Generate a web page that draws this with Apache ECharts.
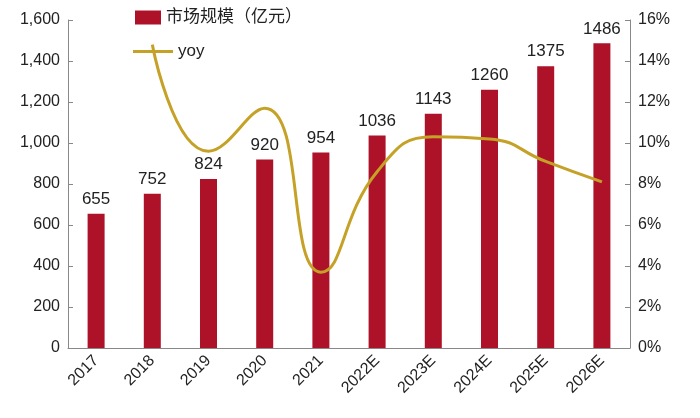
<!DOCTYPE html><html><head><meta charset="utf-8"><script src="https://cdn.jsdelivr.net/npm/echarts@6/dist/echarts.min.js"></script></head><body style="margin:0"><div id="c" style="width:700px;height:418px"></div><script>
const categories=['2017','2018','2019','2020','2021','2022E','2023E','2024E','2025E','2026E'];
const marketSize=[655,752,824,920,954,1036,1143,1260,1375,1486];
const yoy=[null,14.8,9.6,11.7,3.7,8.6,10.3,10.2,9.1,8.1];
const ff='"Liberation Sans", Arial, "Noto Sans CJK SC", sans-serif';
const ch=echarts.init(document.getElementById('c'));
ch.setOption({
 textStyle:{fontFamily:ff},
 legend:[{data:[{name:'市场规模（亿元）',icon:'rect'}],left:130,top:4,itemWidth:26,itemHeight:14,textStyle:{fontSize:17,color:'#222',fontFamily:ff}},
 {data:[{name:'yoy',icon:'path://M0,0H40V3H0Z'}],left:128,top:38,itemWidth:40,itemHeight:3,textStyle:{fontSize:17,color:'#222',fontFamily:ff}}],
 grid:{left:68,right:70,top:20,bottom:70},
 xAxis:{type:'category',data:categories,axisLabel:{rotate:45,fontSize:16,color:'#222',margin:10,interval:0},axisLine:{lineStyle:{color:'#888'}},axisTick:{show:false}},
 yAxis:[{type:'value',min:0,max:1600,interval:200,axisLabel:{fontSize:16,color:'#222',formatter:v=>v.toLocaleString('en-US')},axisLine:{show:true,lineStyle:{color:'#888'}},axisTick:{show:true,inside:true,lineStyle:{color:'#888'}},splitLine:{show:false}},
 {type:'value',min:0,max:16,interval:2,axisLabel:{fontSize:16,color:'#222',formatter:'{value}%'},axisLine:{show:true,lineStyle:{color:'#888'}},axisTick:{show:true,inside:true,lineStyle:{color:'#888'}},splitLine:{show:false}}],
 series:[{name:'市场规模（亿元）',type:'bar',data:marketSize,barWidth:17,itemStyle:{color:'#AE1228'},label:{show:true,position:'top',fontSize:17,color:'#222',distance:6}},
 {name:'yoy',type:'line',yAxisIndex:1,data:yoy,smooth:0.5,symbol:'none',lineStyle:{color:'#C5A227',width:3},itemStyle:{color:'#C5A227'}}]
});
</script></body></html>
